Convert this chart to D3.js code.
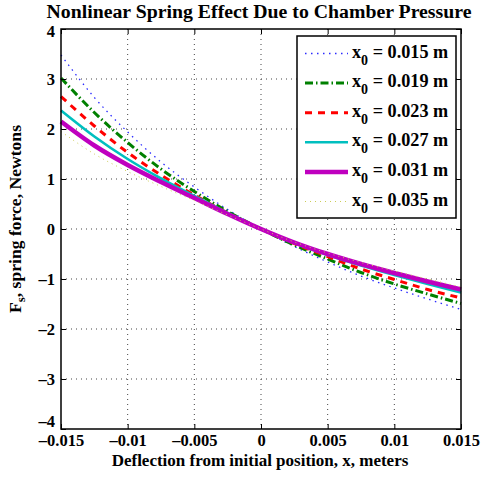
<!DOCTYPE html>
<html>
<head>
<meta charset="utf-8">
<script src="https://cdn.jsdelivr.net/npm/d3@7"></script>
<style>
  body { margin: 0; background: #fff; }
  text { font-family: "Liberation Serif", "Times New Roman", serif; font-weight: bold; }
</style>
</head>
<body>
<svg id="chart"></svg>
<script>
// deflection samples (m)
var deflection = [-0.015, -0.0125, -0.01, -0.0075, -0.005, -0.0025, 0, 0.0025, 0.005, 0.0075, 0.01, 0.0125, 0.015]

// spring force (N) per initial chamber length x0
var force015 = [3.48, 2.63, 1.94, 1.34, 0.84, 0.39, 0, -0.35, -0.66, -0.94, -1.18, -1.40, -1.61]
var force019 = [3.02, 2.33, 1.73, 1.20, 0.75, 0.35, 0, -0.32, -0.60, -0.87, -1.10, -1.30, -1.49]
var force023 = [2.65, 2.06, 1.53, 1.08, 0.68, 0.32, 0, -0.29, -0.55, -0.80, -1.01, -1.21, -1.38]
var force027 = [2.37, 1.85, 1.40, 1.01, 0.66, 0.32, 0, -0.28, -0.52, -0.73, -0.92, -1.10, -1.27]
var force031 = [2.15, 1.67, 1.28, 0.94, 0.62, 0.30, 0, -0.27, -0.50, -0.70, -0.88, -1.05, -1.21]
var force035 = [1.95, 1.50, 1.15, 0.85, 0.57, 0.28, 0, -0.26, -0.48, -0.67, -0.84, -1.00, -1.16]

var legendLabels = ["0.015", "0.019", "0.023", "0.027", "0.031", "0.035"]
var xTicks = [-0.015, -0.01, -0.005, 0, 0.005, 0.01, 0.015]
var xTickLabels = ["\u20130.015", "\u20130.01", "\u20130.005", "0", "0.005", "0.01", "0.015"]
var yTicks = [-4, -3, -2, -1, 0, 1, 2, 3, 4]

var series = [force015, force019, force023, force027, force031, force035]
var styles = [
    {color: "#2b2bff", width: 1.3, dash: "1.5,4.5"},
    {color: "#008000", width: 3, dash: "8,3,1.5,3"},
    {color: "#ff0000", width: 3, dash: "7,6"},
    {color: "#00bfbf", width: 2.6, dash: null},
    {color: "#bf00bf", width: 4.5, dash: null},
    {color: "#cccc55", width: 1, dash: "1,4"}
]

var margin = {top: 29, right: 21, bottom: 49, left: 61},
    width = 482 - margin.left - margin.right,
    height = 478 - margin.top - margin.bottom;

var root = d3.select("#chart")
    .attr("width", 482)
    .attr("height", 478)

var svg = root.append("g")
    .attr("transform", "translate(" + margin.left + "," + margin.top + ")")

var x = d3.scaleLinear().domain([-0.015, 0.015]).range([0, width])
var y = d3.scaleLinear().domain([-4, 4]).range([height, 0])

// grid
var grid = svg.append("g").attr("class", "grid")
grid.selectAll(".gx").data(xTicks.slice(1, -1)).enter().append("line")
    .attr("x1", d => x(d)).attr("x2", d => x(d))
    .attr("y1", 0).attr("y2", height)
grid.selectAll(".gy").data(yTicks.slice(1, -1)).enter().append("line")
    .attr("x1", 0).attr("x2", width)
    .attr("y1", d => y(d)).attr("y2", d => y(d))
grid.selectAll("line")
    .style("stroke", "#444")
    .style("stroke-width", 1)
    .style("stroke-dasharray", "1,4")

// curves
var line = d3.line()
    .x((d, i) => x(deflection[i]))
    .y(d => y(d))
    .curve(d3.curveMonotoneX)

svg.selectAll(".curve").data(series).enter().append("path")
    .attr("class", "curve")
    .attr("d", d => line(d))
    .style("fill", "none")
    .style("stroke", (d, i) => styles[i].color)
    .style("stroke-width", (d, i) => styles[i].width)
    .style("stroke-dasharray", (d, i) => styles[i].dash)

// axes
var xAxis = svg.append("g")
    .attr("transform", "translate(0," + height + ")")
    .call(d3.axisBottom(x).tickValues(xTicks).tickSize(-5).tickPadding(5)
        .tickFormat((d, i) => xTickLabels[i]))
var yAxis = svg.append("g")
    .call(d3.axisLeft(y).tickValues(yTicks).tickSize(-5).tickPadding(6)
        .tickFormat(d => d < 0 ? "\u2013" + (-d) : d))
var topAxis = svg.append("g")
    .call(d3.axisTop(x).tickValues(xTicks).tickSize(-5).tickFormat(""))
var rightAxis = svg.append("g")
    .attr("transform", "translate(" + width + ",0)")
    .call(d3.axisRight(y).tickValues(yTicks).tickSize(-5).tickFormat(""))

svg.selectAll(".domain").remove()
svg.selectAll(".tick line").style("stroke", "#000").style("stroke-width", 1)
svg.selectAll(".tick text")
    .style("font-size", "16.5px")
    .style("font-family", "Liberation Serif, serif")
    .style("font-weight", "bold")
    .style("fill", "#000")

// end labels nudged so they clear the title and the x tick labels
yAxis.selectAll(".tick text").filter(d => d === -4).attr("dy", "-0.15em")
yAxis.selectAll(".tick text").filter(d => d === 4).attr("dy", "0.45em")

svg.append("rect")
    .attr("width", width).attr("height", height)
    .style("fill", "none").style("stroke", "#000").style("stroke-width", 1.5)

// title and labels
root.append("text")
    .attr("x", margin.left + width / 2 - 2).attr("y", 18)
    .attr("text-anchor", "middle")
    .style("font-size", "19.8px")
    .text("Nonlinear Spring Effect Due to Chamber Pressure")

root.append("text")
    .attr("x", margin.left + width / 2 - 1).attr("y", 466)
    .attr("text-anchor", "middle")
    .style("font-size", "17px")
    .text("Deflection from initial position, x, meters")

var yLabel = root.append("text")
    .attr("transform", "translate(21," + 219 + ") rotate(-90)")
    .attr("text-anchor", "middle")
    .style("font-size", "17.6px")
yLabel.append("tspan").text("F")
yLabel.append("tspan").attr("dy", 4).style("font-size", "13px").text("s")
yLabel.append("tspan").attr("dy", -4).text(", spring force, Newtons")

// legend
var legend = svg.append("g")
    .attr("transform", "translate(" + (297 - margin.left) + "," + (36 - margin.top) + ")")

legend.append("rect")
    .attr("width", 159).attr("height", 182)
    .style("fill", "#fff").style("stroke", "#000").style("stroke-width", 1.5)

var rows = legend.selectAll(".row").data(legendLabels).enter().append("g")
    .attr("transform", (d, i) => "translate(0," + (17.5 + i * 29.6) + ")")

rows.append("line")
    .attr("x1", 8).attr("x2", 51)
    .attr("y1", 0).attr("y2", 0)
    .style("stroke", (d, i) => styles[i].color)
    .style("stroke-width", (d, i) => styles[i].width)
    .style("stroke-dasharray", (d, i) => styles[i].dash)

var lt = rows.append("text")
    .attr("x", 55).attr("y", 4)
    .style("font-size", "18.2px")
lt.append("tspan").text("x")
lt.append("tspan").attr("dy", 7).style("font-size", "14px").text("0")
lt.append("tspan").attr("dy", -7).text(d => " = " + d + " m")
</script>
</body>
</html>
